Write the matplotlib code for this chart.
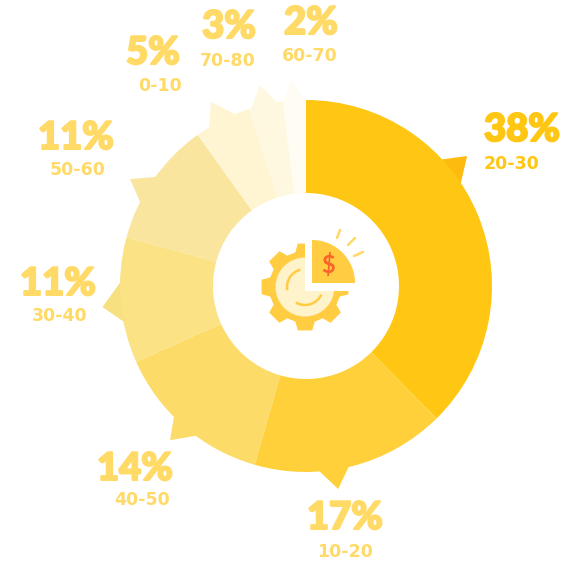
import numpy as np
import matplotlib
matplotlib.use("Agg")
import matplotlib.pyplot as plt
import matplotlib.patheffects as pe
from matplotlib.patches import Circle, Polygon, Rectangle, Wedge, Arc

# Share of each range, clockwise from twelve o'clock
ranges = ["20-30", "10-20", "40-50", "30-40", "50-60", "0-10", "70-80", "60-70"]
shares = [38, 17, 14, 11, 11, 5, 3, 2]

W, H = 574, 562
CX, CY, R = 306, 286, 186
wedge_colors = ["#FFC613", "#FFD03A", "#FDDB68", "#FBE285",
                "#FAE59E", "#FFF5D3", "#FFF8E0", "#FFFCF3"]
pointer_colors = ["#FDBB0F", "#FFD03A", "#FDDB68", "#F7E07F",
                  "#FAE59E", "#FFF5D3", "#FFF8E0", "#FFFCF3"]
label_colors = ["#FFC613"] + ["#FFDA66"] * 7

# Callout spikes: bearing of base start, tip, base end (degrees clockwise) and tip radius
spikes = [(46.7, 51.1, 56.9, 1.113), (176.3, 171.0, 166.3, 1.105),
          (225.7, 221.4, 215.8, 1.105), (271.9, 264.1, 258.4, 1.10),
          (306.4, 301.3, 296.4, 1.107), (328.2, 332.7, 338.0, 1.114),
          (342.5, 347.1, 351.5, 1.108), (352.7, 356.1, 360.0, 1.11)]

# Centres of the percentage and range captions, in pixels from the top left
pct_xy = [(522, 127), (345, 515), (135, 466), (58, 281),
          (76, 135), (153, 50), (229, 24), (311, 20)]
rng_xy = [(511, 162), (345, 550), (142, 498), (60, 314),
          (78, 168), (160, 84), (228, 59), (310, 54)]


def px(x, y):
    return (x - CX) / R, (CY - y) / R


def bearing(deg, r=1.0):
    a = np.radians(deg)
    return r * np.sin(a), r * np.cos(a)


fig = plt.figure(figsize=(W / 100, H / 100), dpi=100)
ax = fig.add_axes([0, 0, 1, 1])

# Spikes sit behind the ring so only their tips show
for (a0, tip, a1, rt), col in zip(spikes, pointer_colors):
    ax.add_patch(Polygon([bearing(a0, 0.99), bearing(tip, rt), bearing(a1, 0.99)],
                         closed=True, fc=col, ec="none", zorder=1))

ax.pie(shares, colors=wedge_colors, startangle=90, counterclock=False, radius=1.0,
       wedgeprops=dict(width=0.5, linewidth=0, zorder=2))

for (x, y), (xr, yr), p, r, c in zip(pct_xy, rng_xy, shares, ranges, label_colors):
    big = ax.text(*px(x, y), f"{p}%", ha="center", va="center_baseline", fontsize=27.5,
                  family="Lato", weight="black", color=c, zorder=5)
    big.set_path_effects([pe.withStroke(linewidth=1.5, foreground=c)])
    ax.text(*px(xr, yr), r, ha="center", va="center_baseline", fontsize=12.5,
            family="DejaVu Sans", weight="bold", color=c, zorder=5)

# Central emblem: gear with a quarter slice lifted out of it
gx, gy = px(305, 287)
gear_col, pale = "#FFCC42", "#FFF3CC"
u = 1 / R
outline = []
for k in range(8):
    mid = 45 * k
    for off, rad in [(-15.5, 36), (-9.5, 44), (9.5, 44), (15.5, 36)]:
        x, y = bearing(mid + off, rad * u)
        outline.append((gx + x, gy + y))
ax.add_patch(Polygon(outline, closed=True, fc=gear_col, ec="none", zorder=3))
ax.add_patch(Circle((gx, gy), 29.5 * u, fc=pale, ec="none", zorder=3.1))
ax.add_patch(Arc((gx, gy), 36 * u, 36 * u, theta1=105, theta2=190, color=gear_col,
                 lw=1.8, zorder=3.2))
ax.add_patch(Arc((gx, gy), 36 * u, 36 * u, theta1=240, theta2=335, color=gear_col,
                 lw=1.8, zorder=3.2))
x0, y0 = px(305, 291)
ax.add_patch(Rectangle((x0, y0), 50 * u, 50 * u, fc="white", ec="none", zorder=3.3))
ax.add_patch(Wedge(px(312, 283), 43 * u, 0, 90, fc=gear_col, ec="none", zorder=3.4))
ax.text(*px(328, 265), "$", ha="center", va="center", fontsize=17, family="Lato",
        weight="bold", color="#F9622A", zorder=3.5)
for a, b in [((340, 230), (337, 238)), ((355, 238), (348, 245)), ((363, 252), (354, 256))]:
    (xa, ya), (xb, yb) = px(*a), px(*b)
    ax.plot([xa, xb], [ya, yb], color="#FFD966", lw=1.8, solid_capstyle="round", zorder=3.5)

ax.set_xlim(-CX / R, (W - CX) / R)
ax.set_ylim(-(H - CY) / R, CY / R)
ax.set_aspect("equal")
ax.axis("off")

fig.savefig("out.png", dpi=100, facecolor="white")
